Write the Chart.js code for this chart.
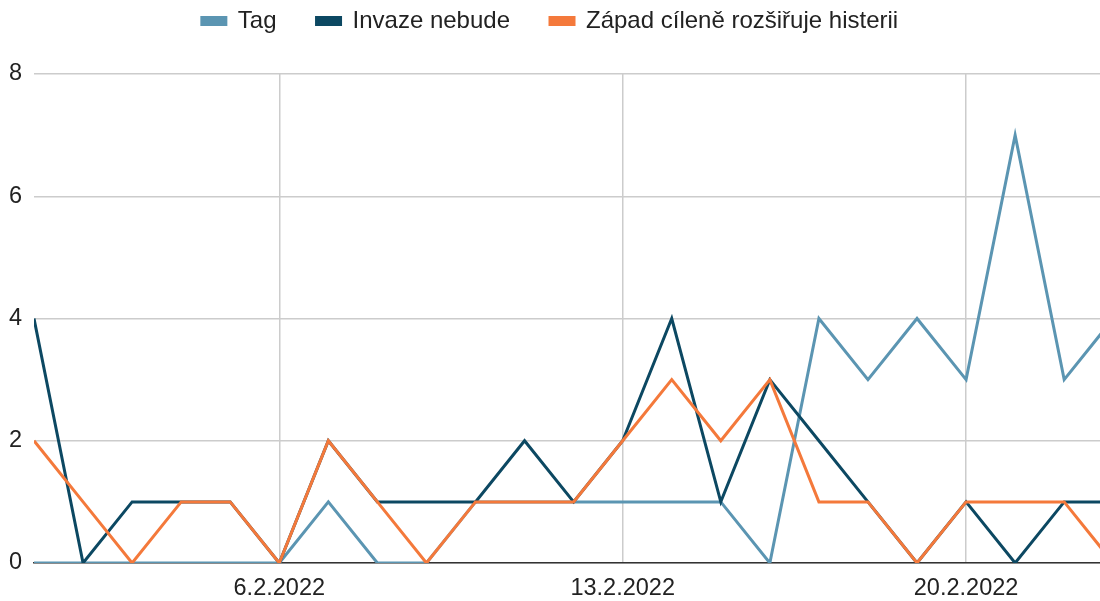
<!DOCTYPE html>
<html>
<head>
<meta charset="utf-8">
<script src="https://cdn.jsdelivr.net/npm/chart.js@4"></script>
<style>
  html, body { margin: 0; padding: 0; background: #fff; }
  #wrap { width: 1100px; height: 601px; position: relative; }
</style>
</head>
<body>
<div id="wrap"><canvas id="chart"></canvas></div>
<script>
// Dny v únoru 2022 (1.2. až 23.2.)
const days = [1, 2, 3, 4, 5, 6, 7, 8, 9, 10, 11, 12, 13, 14, 15, 16, 17, 18, 19, 20, 21, 22, 23];
const tagValues = [0, 0, 0, 0, 0, 0, 1, 0, 0, 1, 1, 1, 1, 1, 1, 0, 4, 3, 4, 3, 7, 3, 4];
const invazeValues = [4, 0, 1, 1, 1, 0, 2, 1, 1, 1, 2, 1, 2, 4, 1, 3, 2, 1, 0, 1, 0, 1, 1];
const zapadValues = [2, 1, 0, 1, 1, 0, 2, 1, 0, 1, 1, 1, 2, 3, 2, 3, 1, 1, 0, 1, 1, 1, 0];
const tickDays = [6, 13, 20];
const yTicks = [0, 2, 4, 6, 8];

const toPoints = vals => vals.map((v, i) => ({ x: days[i], y: v }));
const FONT = '"Liberation Sans", Arial, sans-serif';

// legenda nahoře, graf začíná níž
const legendHeight = {
  id: 'legendHeight',
  beforeInit(chart) {
    const fit = chart.legend.fit;
    chart.legend.fit = function () {
      fit.call(this);
      this.height = 105;
    };
  }
};

const ctx = document.getElementById('chart').getContext('2d');
new Chart(ctx, {
  type: 'line',
  data: {
    datasets: [
      { label: 'Tag', data: toPoints(tagValues), borderColor: '#5b95b2', backgroundColor: '#5b95b2', order: 3 },
      { label: 'Invaze nebude', data: toPoints(invazeValues), borderColor: '#0c4862', backgroundColor: '#0c4862', order: 2 },
      { label: 'Západ cíleně rozšiřuje histerii', data: toPoints(zapadValues), borderColor: '#f4793b', backgroundColor: '#f4793b', order: 1 }
    ]
  },
  plugins: [legendHeight],
  options: {
    responsive: true,
    maintainAspectRatio: false,
    animation: false,
    layout: { padding: { top: -31, right: 0, left: 0, bottom: 0 } },
    elements: {
      point: { radius: 0, hoverRadius: 0 },
      line: { borderWidth: 3, tension: 0, borderJoinStyle: 'miter', borderCapStyle: 'butt' }
    },
    plugins: {
      tooltip: { enabled: false },
      legend: {
        position: 'top',
        labels: {
          font: { family: FONT, size: 24 },
          color: '#222',
          boxWidth: 24,
          boxHeight: 7,
          padding: 40,
          sort: (a, b) => a.datasetIndex - b.datasetIndex
        }
      }
    },
    scales: {
      x: {
        type: 'linear',
        min: 1,
        max: 22.73,
        afterBuildTicks: scale => { scale.ticks = tickDays.map(d => ({ value: d })); },
        afterFit: scale => { scale.height = 38; },
        ticks: {
          font: { family: FONT, size: 23.5 },
          color: '#222',
          padding: 11,
          maxRotation: 0,
          callback: value => value + '.2.2022'
        },
        grid: { color: '#cccccc', lineWidth: 1.5, drawTicks: false },
        border: { display: true, color: '#333333', width: 1.5 }
      },
      y: {
        min: 0,
        max: 8,
        afterBuildTicks: scale => { scale.ticks = yTicks.map(v => ({ value: v })); },
        afterFit: scale => { scale.width = 34; },
        ticks: {
          font: { family: FONT, size: 23.5 },
          color: '#222',
          padding: 12
        },
        grid: { color: '#cccccc', lineWidth: 1.5, drawTicks: false },
        border: { display: false }
      }
    }
  }
});
</script>
</body>
</html>
